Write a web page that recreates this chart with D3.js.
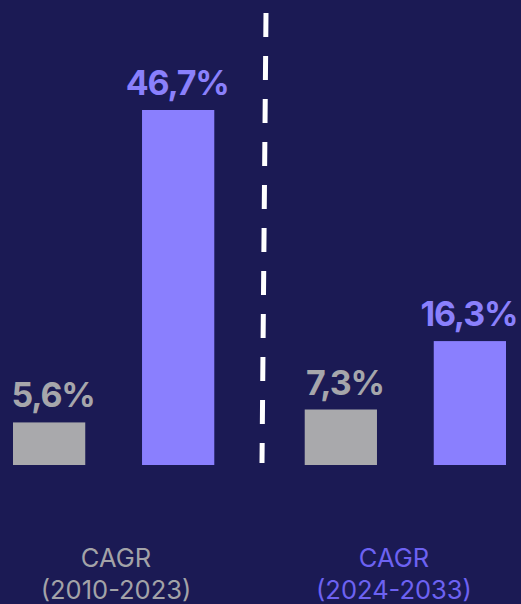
<!DOCTYPE html>
<html>
<head>
<meta charset="utf-8">
<script src="https://cdn.jsdelivr.net/npm/d3@7"></script>
<style>
  html, body { margin: 0; padding: 0; background: #1b1a54; }
  svg { display: block; }
</style>
</head>
<body>
<div id="chart"></div>
<script>
// data
const periods = ["CAGR (2010-2023)", "CAGR (2024-2033)"];
const series = ["market", "segment"];
const cagrMarket = [5.6, 7.3];
const cagrSegment = [46.7, 16.3];
const periodLines = [["CAGR", "(2010-2023)"], ["CAGR", "(2024-2033)"]];

const width = 521, height = 604;
const bg = "#1b1a54";
const colors = { market: "#a9a9ac", segment: "#8a7ffe" };
const labelColors = { market: "#a6a6ab", segment: "#8a80fc" };
const periodColors = ["#a3a3a8", "#6d62f2"];

const rows = periods.map((p, i) => ({
    period: p,
    values: [
        { key: "market", value: cagrMarket[i] },
        { key: "segment", value: cagrSegment[i] }
    ]
}));

let svg = d3.select("#chart").append("svg")
    .attr("width", width)
    .attr("height", height);

svg.append("rect")
    .attr("width", width)
    .attr("height", height)
    .attr("fill", bg);

const x0 = d3.scaleBand()
    .domain(periods)
    .range([13, 506])
    .paddingInner(0.31);

const x1 = d3.scaleBand()
    .domain(series)
    .range([0, x0.bandwidth()])
    .paddingInner(0.44);

const y = d3.scaleLinear()
    .domain([0, 46.7])
    .range([465, 110]);

// labels under each period group
const xLabel = d3.scalePoint()
    .domain(periods)
    .range([116, 394]);

// dashed divider between the periods
svg.append("line")
    .attr("x1", 266).attr("y1", 13)
    .attr("x2", 262).attr("y2", 463)
    .attr("stroke", "#ffffff")
    .attr("stroke-width", 5)
    .attr("stroke-dasharray", "24 19");

let groups = svg.selectAll("g.period")
    .data(rows)
    .join("g")
    .attr("class", "period")
    .attr("transform", d => `translate(${x0(d.period)},0)`);

groups.selectAll("rect")
    .data(d => d.values)
    .join("rect")
    .attr("x", d => x1(d.key))
    .attr("y", d => y(d.value))
    .attr("width", x1.bandwidth())
    .attr("height", d => y(0) - y(d.value))
    .attr("fill", d => colors[d.key]);

groups.selectAll("text.val")
    .data(d => d.values)
    .join("text")
    .attr("class", "val")
    .attr("x", d => x1(d.key) + x1.bandwidth() / 2 + (d.key === "market" ? 4 : -1))
    .attr("y", d => y(d.value) - 15)
    .attr("text-anchor", "middle")
    .attr("font-family", "Inter, 'Noto Sans', sans-serif")
    .attr("font-weight", 700)
    .attr("font-size", 34)
    .attr("letter-spacing", -1.2)
    .attr("fill", d => labelColors[d.key])
    .text(d => d.value.toFixed(1).replace(".", ",") + "%");

svg.selectAll("text.period")
    .data(periods)
    .join("text")
    .attr("class", "period")
    .attr("x", d => xLabel(d))
    .attr("text-anchor", "middle")
    .attr("font-family", "Inter, 'Noto Sans', sans-serif")
    .attr("font-size", 25.5)
    .attr("fill", (d, i) => periodColors[i])
    .each(function (d, i) {
        d3.select(this).selectAll("tspan")
            .data(periodLines[i])
            .join("tspan")
            .attr("x", xLabel(d))
            .attr("y", (t, j) => 567 + j * 32)
            .text(t => t);
    });
</script>
</body>
</html>
